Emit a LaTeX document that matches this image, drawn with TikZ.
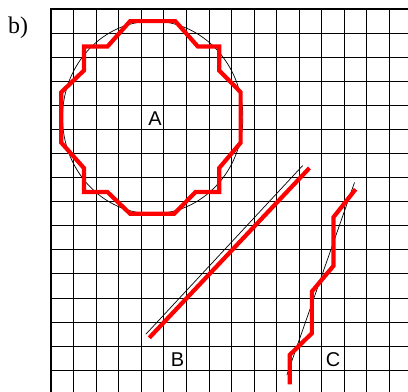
\documentclass[tikz,border=0pt]{standalone}
\usepackage{fontspec}
\setmainfont{Liberation Serif}
\setsansfont{Liberation Sans}
\usetikzlibrary{positioning}
\tikzset{
  racs/.style={line width=0.7pt},
  keret/.style={line width=1.8pt,line cap=rect},
  kor/.style={line width=0.5pt},
  piros/.style={red,line width=3pt},
  betu/.style={font=\sffamily\fontsize{14.2}{16}\selectfont,inner sep=0pt},
}

\begin{document}
\begin{tikzpicture}[x=0.56375cm,y=-0.602cm]
  \useasboundingbox (-2.2705,-0.3779) rectangle (15.8226,15.901);
  \clip (-2.2705,-0.3779) rectangle (15.8226,15.901);
  \foreach \i in {0,...,16} {
    \draw[racs] (\i,0) -- (\i,16.5);
    \draw[racs] (0,\i) -- (16.5,\i);
  }
  \draw[keret] (16.5,0) -- (0,0) -- (0,16.5);
  % A
  \draw[kor] (4.5,4.5) ellipse [x radius=2.255cm, y radius=2.408cm];
  \draw[piros] (3.5,0.5) -- (5.5,0.5) -- (6.5,1.55) -- (7.45,1.55) -- (7.45,2.55)
    -- (8.4,3.45) -- (8.4,5.55) -- (7.45,6.6) -- (7.45,7.6) -- (6.4,7.6)
    -- (5.45,8.5) -- (3.5,8.5) -- (2.5,7.6) -- (1.45,7.6) -- (1.45,6.6)
    -- (0.45,5.55) -- (0.45,3.45) -- (1.45,2.55) -- (1.45,1.55) -- (2.5,1.55) -- cycle;
  % B
  \draw[kor] (4.2,13.5) -- (11.15,6.5);
  \draw[piros] (4.35,13.65) -- (11.45,6.6);
  % C
  \draw[kor] (13.45,7.2) -- (10.45,15.2);
  \draw[piros] (13.5,7.48) -- (12.52,8.64) -- (12.52,10.66) -- (11.56,11.73)
    -- (11.56,13.46) -- (10.58,14.36) -- (10.58,15.58);
  \node[betu] (lA) at (4.6,4.56) {A};
  \node[betu] (lB) at (5.6,14.57) {B};
  \node[betu] (lC) at (12.5,14.57) {C};
  \node[font=\fontsize{17}{19}\selectfont,inner sep=0pt] (lb) at (-1.47,0.785) {b)};
\end{tikzpicture}
\end{document}
